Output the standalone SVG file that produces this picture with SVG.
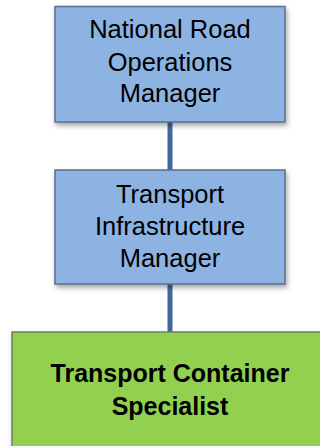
<svg xmlns="http://www.w3.org/2000/svg" width="320" height="446" viewBox="0 0 320 446">
<defs>
<filter id="sh" x="-10%" y="-10%" width="130%" height="140%">
<feDropShadow dx="1.5" dy="3" stdDeviation="2.5" flood-color="#000" flood-opacity="0.35"/>
</filter>
</defs>
<style>
.blue{fill:#8db3e2;stroke:#5a6f8c;stroke-width:1.5;filter:url(#sh)}
.green{fill:#92d050;stroke:#6f7f66;stroke-width:1.5;filter:url(#sh)}
.t{font-family:"Liberation Sans",Arial,sans-serif;font-size:25.5px;fill:#000;text-anchor:middle}
.b{font-family:"Liberation Sans",Arial,sans-serif;font-size:25px;font-weight:bold;fill:#000;text-anchor:middle}
.c{stroke:#41689c;stroke-width:5;fill:none}
</style>
<rect width="320" height="446" fill="#fff"/>
<g id="connectors">
<line class="c" x1="170" y1="122" x2="170" y2="170"/>
<line class="c" x1="170" y1="284" x2="170" y2="332"/>
</g>
<g id="n1">
<rect class="blue" x="55" y="6.5" width="230" height="115.5"/>
<text class="t" x="170" y="38">National Road</text>
<text class="t" x="170" y="71">Operations</text>
<text class="t" x="170" y="102">Manager</text>
</g>
<g id="n2">
<rect class="blue" x="55" y="170" width="230" height="114"/>
<text class="t" x="170" y="203">Transport</text>
<text class="t" x="170" y="235">Infrastructure</text>
<text class="t" x="170" y="267">Manager</text>
</g>
<g id="n3">
<rect class="green" x="12" y="332" width="316" height="130"/>
<text class="b" x="170" y="382">Transport Container</text>
<text class="b" x="170" y="415">Specialist</text>
</g>
</svg>
